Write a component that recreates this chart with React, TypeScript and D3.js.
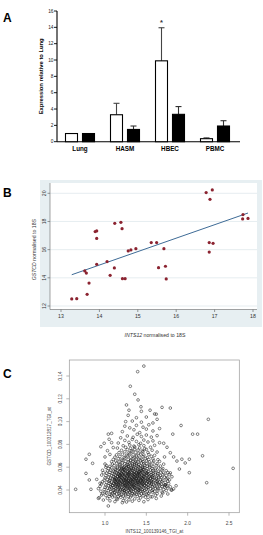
import React from 'react';
import * as d3 from 'd3';

// ---------- Panel A data ----------
const categories = ['Lung', 'HASM', 'HBEC', 'PBMC'];
const whiteValues = [1.0, 3.3, 9.9, 0.37];
const whiteErrTop: (number | null)[] = [null, 4.7, 13.95, 0.47];
const blackValues = [1.0, 1.5, 3.35, 1.92];
const blackErrTop: (number | null)[] = [null, 1.92, 4.3, 2.57];
const aTicks = [0, 2, 4, 6, 8, 10, 12, 14, 16];
const starIndex = 2;

// ---------- Panel B data ----------
const bX = [13.28, 13.41, 13.62, 13.66, 13.68, 13.73, 13.89, 13.93, 13.93, 13.93, 14.2, 14.28, 14.39, 14.4, 14.56, 14.59, 14.6, 14.67, 14.75, 14.82, 14.95, 15.35, 15.49, 15.54, 15.68, 15.72, 15.74, 16.78, 16.94, 16.88, 16.86, 16.96, 16.86, 17.74, 17.73, 17.87];
const bY = [12.5, 12.52, 14.49, 14.34, 12.83, 13.63, 17.28, 17.33, 16.8, 14.96, 15.15, 14.18, 14.7, 17.87, 17.94, 17.49, 13.94, 13.94, 15.91, 15.98, 16.07, 16.5, 16.5, 14.72, 16.07, 14.82, 13.92, 20.05, 20.24, 19.57, 16.5, 16.45, 15.83, 18.49, 18.18, 18.22];
const bFitX = [13.28, 17.87];
const bFitY = [14.22, 18.6];
const bXTicks = [13, 14, 15, 16, 17, 18];
const bYTicks = [12, 14, 16, 18, 20];

// ---------- Panel C data ----------
const cPoints: [number, number][] = [
  // outliers / sparse region
  [1.47,.1487],[1.395,.1438],[1.306,.131],[1.36,.124],[1.40,.119],[1.26,.1146],[1.29,.110],[1.435,.113],[1.44,.109],[1.38,.1034],[1.545,.110],[1.25,.100],[1.24,.096],
  [1.69,.1125],[1.79,.1119],[1.60,.1067],[1.62,.1065],[1.63,.102],[2.25,.102],[1.92,.0966],[1.58,.0988],[1.82,.089],[2.06,.089],[2.12,.089],
  [2.18,.070],[1.93,.067],[2.02,.067],[1.97,.0637],[1.87,.0654],[2.02,.0552],[1.90,.0584],[2.23,.0464],[2.55,.059],[1.81,.040],[1.75,.0775],[1.79,.0727],[1.71,.081],[1.83,.069],[1.79,.055],[1.73,.0444],
  [1.04,.089],[1.08,.0897],[0.99,.081],[0.95,.078],[0.81,.0713],[0.77,.067],[0.85,.0634],[1.00,.0628],[0.77,.0546],[0.81,.0488],[0.645,.0406],[0.83,.0406],[0.94,.0459],[0.92,.0327],[1.04,.026],[0.96,.0356],
  [1.05,.0845],[1.08,.0815],[1.10,.0772],[1.03,.0745],[1.06,.0712],[1.00,.0690],[1.44,.0995],[1.33,.1005],[1.50,.104],[1.28,.1055],
  // dense cloud
  [1.12,.0298],[1.21,.0289],[1.26,.0295],[1.47,.0297],
  [0.98,.0312],[1.06,.0305],[1.15,.0318],[1.22,.0307],[1.29,.0314],[1.33,.0302],[1.41,.0309],[1.52,.0316],
  [0.93,.0333],[1.03,.0327],[1.09,.0338],[1.14,.0324],[1.19,.0336],[1.24,.0329],[1.31,.0339],[1.36,.0322],[1.43,.0331],[1.49,.0337],[1.57,.0340],[1.62,.0326],
  [1.01,.0352],[1.05,.0344],[1.08,.0357],[1.12,.0348],[1.16,.0342],[1.18,.0355],[1.22,.0347],[1.25,.0359],[1.28,.0343],[1.32,.0351],[1.35,.0358],[1.39,.0345],[1.42,.0353],[1.46,.0349],[1.51,.0356],[1.55,.0341],[1.61,.0354],[1.68,.0347],
  [0.97,.0368],[1.02,.0375],[1.06,.0362],[1.09,.0371],[1.11,.0378],[1.14,.0365],[1.17,.0373],[1.20,.0361],[1.23,.0377],[1.25,.0369],[1.28,.0364],[1.30,.0376],[1.33,.0367],[1.36,.0372],[1.38,.0363],[1.41,.0379],[1.44,.0366],[1.47,.0374],[1.50,.0362],[1.53,.0371],[1.58,.0377],[1.63,.0368],[1.70,.0373],[1.76,.0365],
  [0.95,.0389],[1.00,.0382],[1.04,.0395],[1.07,.0386],[1.10,.0398],[1.12,.0381],[1.15,.0392],[1.17,.0387],[1.19,.0399],[1.21,.0384],[1.24,.0393],[1.26,.0388],[1.28,.0396],[1.30,.0383],[1.32,.0391],[1.34,.0386],[1.37,.0397],[1.39,.0382],[1.41,.0394],[1.43,.0389],[1.46,.0385],[1.48,.0398],[1.51,.0390],[1.54,.0383],[1.57,.0396],[1.60,.0387],[1.64,.0393],[1.69,.0381],[1.74,.0395],[1.80,.0400],
  [0.92,.0412],[0.99,.0404],[1.03,.0417],[1.06,.0408],[1.08,.0419],[1.11,.0402],[1.13,.0414],[1.15,.0406],[1.17,.0418],[1.19,.0409],[1.21,.0401],[1.23,.0415],[1.25,.0407],[1.27,.0420],[1.29,.0411],[1.31,.0403],[1.33,.0416],[1.35,.0408],[1.37,.0413],[1.39,.0405],[1.41,.0418],[1.43,.0410],[1.45,.0402],[1.47,.0415],[1.50,.0407],[1.52,.0419],[1.55,.0411],[1.58,.0404],[1.61,.0416],[1.64,.0409],[1.67,.0413],[1.71,.0405],[1.76,.0417],[1.83,.0410],
  [0.94,.0431],[1.00,.0424],[1.04,.0437],[1.07,.0428],[1.09,.0439],[1.11,.0422],[1.13,.0434],[1.15,.0426],[1.16,.0438],[1.18,.0429],[1.20,.0421],[1.22,.0435],[1.24,.0427],[1.25,.0440],[1.27,.0432],[1.29,.0423],[1.31,.0436],[1.32,.0428],[1.34,.0433],[1.36,.0425],[1.38,.0438],[1.40,.0430],[1.42,.0422],[1.44,.0435],[1.46,.0427],[1.48,.0439],[1.50,.0431],[1.52,.0424],[1.55,.0436],[1.57,.0429],[1.60,.0433],[1.63,.0425],[1.66,.0438],[1.69,.0430],[1.72,.0426],[1.75,.0434],[1.79,.0428],[1.86,.0437],
  [0.96,.0453],[1.01,.0445],[1.05,.0458],[1.07,.0448],[1.09,.0441],[1.11,.0455],[1.13,.0447],[1.14,.0459],[1.16,.0450],[1.18,.0443],[1.19,.0456],[1.21,.0448],[1.23,.0460],[1.24,.0442],[1.26,.0454],[1.27,.0446],[1.29,.0457],[1.30,.0449],[1.32,.0444],[1.33,.0455],[1.35,.0451],[1.36,.0442],[1.38,.0458],[1.39,.0447],[1.41,.0453],[1.43,.0445],[1.44,.0457],[1.46,.0449],[1.48,.0441],[1.50,.0454],[1.52,.0446],[1.54,.0459],[1.56,.0450],[1.59,.0443],[1.62,.0456],[1.65,.0448],[1.68,.0452],[1.72,.0444],[1.77,.0457],[1.73,.0444],
  [0.97,.0472],[1.02,.0465],[1.05,.0478],[1.08,.0469],[1.10,.0461],[1.12,.0475],[1.13,.0467],[1.15,.0479],[1.17,.0470],[1.18,.0462],[1.20,.0476],[1.21,.0468],[1.23,.0480],[1.24,.0463],[1.26,.0474],[1.27,.0466],[1.28,.0478],[1.30,.0471],[1.31,.0463],[1.33,.0476],[1.34,.0468],[1.36,.0473],[1.37,.0464],[1.39,.0479],[1.40,.0470],[1.42,.0462],[1.43,.0475],[1.45,.0467],[1.47,.0477],[1.48,.0469],[1.50,.0461],[1.52,.0474],[1.54,.0466],[1.56,.0478],[1.58,.0471],[1.61,.0463],[1.63,.0476],[1.66,.0468],[1.69,.0473],[1.73,.0465],[1.76,.0477],[1.64,.0462],
  [0.99,.0486],[1.03,.0493],[1.06,.0484],[1.09,.0497],[1.11,.0489],[1.12,.0482],[1.14,.0495],[1.16,.0487],[1.17,.0499],[1.19,.0490],[1.20,.0483],[1.22,.0496],[1.23,.0488],[1.25,.0481],[1.26,.0494],[1.28,.0486],[1.29,.0498],[1.31,.0491],[1.32,.0484],[1.34,.0497],[1.35,.0489],[1.37,.0482],[1.38,.0495],[1.40,.0487],[1.41,.0499],[1.43,.0492],[1.44,.0485],[1.46,.0496],[1.47,.0488],[1.49,.0481],[1.51,.0494],[1.53,.0486],[1.55,.0498],[1.57,.0490],[1.59,.0483],[1.62,.0495],[1.64,.0488],[1.67,.0492],[1.70,.0484],[1.74,.0497],[1.78,.0489],[0.90,.0493],
  [1.00,.0506],[1.04,.0513],[1.07,.0504],[1.10,.0517],[1.12,.0509],[1.13,.0502],[1.15,.0515],[1.17,.0507],[1.18,.0519],[1.20,.0510],[1.21,.0503],[1.23,.0516],[1.24,.0508],[1.26,.0501],[1.27,.0514],[1.29,.0506],[1.30,.0518],[1.32,.0511],[1.33,.0504],[1.35,.0517],[1.36,.0509],[1.38,.0502],[1.39,.0515],[1.41,.0507],[1.42,.0519],[1.44,.0512],[1.45,.0505],[1.47,.0516],[1.49,.0508],[1.51,.0501],[1.53,.0514],[1.55,.0506],[1.57,.0518],[1.60,.0510],[1.62,.0503],[1.65,.0515],[1.68,.0508],[1.72,.0512],[1.76,.0504],[1.81,.0516],
  [1.01,.0527],[1.05,.0534],[1.08,.0525],[1.11,.0538],[1.13,.0530],[1.15,.0522],[1.16,.0536],[1.18,.0528],[1.20,.0539],[1.21,.0531],[1.23,.0523],[1.25,.0535],[1.26,.0527],[1.28,.0540],[1.29,.0532],[1.31,.0524],[1.33,.0537],[1.34,.0529],[1.36,.0533],[1.37,.0521],[1.39,.0536],[1.41,.0528],[1.42,.0539],[1.44,.0531],[1.46,.0524],[1.48,.0537],[1.50,.0529],[1.52,.0533],[1.54,.0522],[1.56,.0535],[1.58,.0527],[1.61,.0538],[1.64,.0530],[1.67,.0525],[1.70,.0534],[1.74,.0528],[1.78,.0536],[0.96,.0531],
  [1.02,.0548],[1.06,.0555],[1.09,.0546],[1.12,.0558],[1.14,.0550],[1.16,.0543],[1.18,.0556],[1.20,.0547],[1.22,.0559],[1.23,.0551],[1.25,.0544],[1.27,.0557],[1.29,.0549],[1.30,.0542],[1.32,.0554],[1.34,.0546],[1.36,.0558],[1.38,.0550],[1.40,.0543],[1.41,.0556],[1.43,.0548],[1.45,.0553],[1.47,.0545],[1.49,.0557],[1.51,.0549],[1.53,.0542],[1.56,.0555],[1.58,.0547],[1.61,.0552],[1.64,.0544],[1.67,.0556],[1.71,.0549],[1.76,.0553],[0.98,.0552],
  [1.03,.0568],[1.07,.0574],[1.10,.0565],[1.13,.0578],[1.15,.0570],[1.17,.0562],[1.19,.0576],[1.21,.0567],[1.23,.0579],[1.25,.0571],[1.27,.0563],[1.29,.0575],[1.31,.0568],[1.33,.0572],[1.35,.0564],[1.37,.0577],[1.39,.0569],[1.41,.0561],[1.43,.0574],[1.45,.0566],[1.47,.0578],[1.50,.0570],[1.52,.0563],[1.55,.0575],[1.58,.0567],[1.61,.0572],[1.65,.0564],[1.69,.0576],[1.74,.0569],[0.97,.0573],
  [1.04,.0588],[1.08,.0595],[1.12,.0584],[1.15,.0597],[1.18,.0589],[1.20,.0582],[1.22,.0594],[1.24,.0586],[1.26,.0599],[1.28,.0591],[1.30,.0583],[1.32,.0596],[1.34,.0588],[1.37,.0592],[1.39,.0584],[1.41,.0597],[1.43,.0589],[1.46,.0582],[1.48,.0594],[1.51,.0587],[1.54,.0598],[1.57,.0590],[1.61,.0585],[1.65,.0593],[1.70,.0588],[1.01,.0599],
  [1.06,.0607],[1.11,.0614],[1.15,.0605],[1.18,.0618],[1.21,.0609],[1.23,.0602],[1.26,.0615],[1.28,.0607],[1.31,.0619],[1.33,.0611],[1.35,.0603],[1.38,.0616],[1.40,.0608],[1.43,.0612],[1.45,.0604],[1.48,.0617],[1.51,.0609],[1.54,.0613],[1.58,.0605],[1.62,.0616],[1.67,.0610],[1.02,.0613],
  [1.09,.0628],[1.14,.0635],[1.18,.0626],[1.21,.0638],[1.24,.0630],[1.27,.0623],[1.30,.0636],[1.33,.0628],[1.36,.0639],[1.38,.0631],[1.41,.0624],[1.44,.0637],[1.47,.0629],[1.50,.0633],[1.54,.0625],[1.58,.0636],[1.63,.0630],[1.71,.0627],
  [1.08,.0648],[1.13,.0655],[1.17,.0646],[1.21,.0658],[1.25,.0650],[1.28,.0643],[1.31,.0656],[1.34,.0648],[1.37,.0653],[1.40,.0645],[1.43,.0657],[1.46,.0649],[1.50,.0654],[1.54,.0646],[1.59,.0655],[1.66,.0651],
  [1.10,.0668],[1.16,.0674],[1.20,.0665],[1.24,.0677],[1.28,.0669],[1.31,.0662],[1.34,.0675],[1.38,.0667],[1.41,.0672],[1.45,.0664],[1.49,.0676],[1.53,.0668],[1.58,.0673],[1.64,.0666],
  [1.12,.0688],[1.18,.0694],[1.23,.0685],[1.27,.0697],[1.31,.0689],[1.35,.0682],[1.38,.0695],[1.42,.0687],[1.46,.0692],[1.51,.0684],[1.56,.0696],[1.72,.0690],
  [1.14,.0708],[1.21,.0714],[1.26,.0705],[1.30,.0717],[1.34,.0709],[1.38,.0702],[1.43,.0715],[1.47,.0707],[1.53,.0712],[1.60,.0704],
  [1.17,.0728],[1.24,.0735],[1.29,.0726],[1.33,.0738],[1.37,.0730],[1.41,.0723],[1.46,.0736],[1.52,.0729],[1.63,.0733],
  [1.20,.0748],[1.27,.0755],[1.32,.0746],[1.36,.0758],[1.40,.0750],[1.45,.0743],[1.50,.0756],[1.57,.0749],
  [1.15,.0768],[1.25,.0774],[1.31,.0765],[1.36,.0777],[1.42,.0769],[1.48,.0762],[1.55,.0775],
  [1.22,.0788],[1.30,.0794],[1.35,.0785],[1.41,.0797],[1.47,.0789],[1.60,.0792],
  [1.16,.0812],[1.24,.0835],[1.29,.0818],[1.33,.0844],[1.38,.0826],[1.43,.0809],[1.47,.0838],[1.52,.0821],[1.58,.0831],[1.66,.0815],
  [1.19,.0858],[1.27,.0874],[1.34,.0862],[1.39,.0889],[1.44,.0869],[1.50,.0882],[1.56,.0864],[1.63,.0877],
  [1.21,.0912],[1.30,.0945],[1.35,.0928],[1.38,.0967],[1.42,.0903],[1.46,.0951],[1.50,.0934],[1.53,.0972],[1.58,.0918],[1.66,.0939],
  // extra core density
  [1.22,.0452],[1.28,.0461],[1.34,.0443],[1.40,.0465],[1.25,.0489],[1.31,.0478],[1.37,.0502],[1.43,.0481],[1.19,.0512],[1.27,.0525],[1.33,.0493],[1.39,.0528],[1.45,.0499],[1.21,.0541],[1.29,.0553],[1.35,.0537],[1.42,.0561],[1.48,.0520],[1.24,.0576],[1.32,.0584],[1.38,.0547],[1.44,.0571],[1.26,.0432],[1.36,.0419],[1.16,.0472],[1.46,.0458],[1.52,.0489],[1.18,.0533],[1.50,.0548],[1.30,.0412],[1.23,.0398],[1.41,.0401],[1.14,.0447],[1.56,.0462],[1.12,.0495],[1.58,.0512],[1.28,.0606],[1.36,.0621],[1.20,.0592],[1.46,.0596],
];
const cXTicks = [1.0, 1.5, 2.0, 2.5];
const cYTicks = [0.04, 0.06, 0.08, 0.10, 0.12, 0.14];

const FONT = 'Liberation Sans, Arial, Helvetica, sans-serif';

function PanelA() {
  const x = d3.scaleBand<string>().domain(categories).range([57.5, 237.5]);
  const y = d3.scaleLinear().domain([0, 16]).range([141.7, 11]);
  const bw = 12;
  const gap = 2.5;
  return (
    <g fontFamily={FONT}>
      <text x={3} y={22} fontSize={12} fontWeight="bold">A</text>
      <line x1={57} x2={57} y1={y(16)} y2={y(0)} stroke="#000" strokeWidth={1.1} />
      <line x1={57} x2={240} y1={y(0)} y2={y(0)} stroke="#000" strokeWidth={1.1} />
      {aTicks.map(t => (
        <g key={t}>
          <line x1={54} x2={57} y1={y(t)} y2={y(t)} stroke="#000" strokeWidth={0.9} />
          <text x={53.5} y={y(t) + 1.7} fontSize={4.8} textAnchor="end" fill="#222">{t}</text>
        </g>
      ))}
      <text transform={`translate(42.5,${y(8)}) rotate(-90)`} textAnchor="middle" fontSize={5.8} fontWeight="bold">Expression relative to Lung</text>
      {categories.map((c, i) => {
        const cx = (x(c) as number) + x.bandwidth() / 2;
        const wx = cx - gap - bw;
        const bx = cx + gap;
        const we = whiteErrTop[i];
        const be = blackErrTop[i];
        return (
          <g key={c}>
            {we != null && (
              <g stroke="#444" strokeWidth={1.1}>
                <line x1={wx + bw / 2} x2={wx + bw / 2} y1={y(whiteValues[i])} y2={y(we)} />
                <line x1={wx + bw / 2 - 3} x2={wx + bw / 2 + 3} y1={y(we)} y2={y(we)} />
              </g>
            )}
            {be != null && (
              <g stroke="#333" strokeWidth={1.1}>
                <line x1={bx + bw / 2} x2={bx + bw / 2} y1={y(blackValues[i])} y2={y(be)} />
                <line x1={bx + bw / 2 - 3} x2={bx + bw / 2 + 3} y1={y(be)} y2={y(be)} />
              </g>
            )}
            <rect x={wx} y={y(whiteValues[i])} width={bw} height={y(0) - y(whiteValues[i])} fill="#fff" stroke="#000" strokeWidth={1.1} />
            <rect x={bx} y={y(blackValues[i])} width={bw} height={y(0) - y(blackValues[i])} fill="#000" stroke="#000" strokeWidth={1.1} />
            <text x={cx} y={151} fontSize={6.3} fontWeight="bold" textAnchor="middle">{c}</text>
            {i === starIndex && (
              <text x={wx + bw / 2} y={y(we as number) - 2.5} fontSize={7.5} fontWeight="bold" textAnchor="middle" fill="#333">*</text>
            )}
          </g>
        );
      })}
    </g>
  );
}

function PanelB() {
  const x = d3.scaleLinear().domain([13, 18]).range([61, 253]);
  const y = d3.scaleLinear().domain([12, 20]).range([306, 193.3]);
  const left = 50, right = 257, top = 183, bottom = 309.5;
  const line = d3.line<number>().x((_, i) => x(bFitX[i])).y(d => y(d));
  return (
    <g fontFamily={FONT}>
      <text x={3} y={197} fontSize={12} fontWeight="bold">B</text>
      <rect x={40} y={180} width={222} height={147} fill="#e7eff2" />
      <rect x={left} y={top} width={right - left} height={bottom - top} fill="#fff" />
      {bYTicks.map(t => (
        <g key={t}>
          <line x1={left} x2={right} y1={y(t)} y2={y(t)} stroke="#e3ebee" strokeWidth={0.9} />
          <line x1={left - 2.5} x2={left} y1={y(t)} y2={y(t)} stroke="#555" strokeWidth={0.6} />
          <text transform={`translate(${left - 4},${y(t)}) rotate(-90)`} textAnchor="middle" fontSize={5.2} fill="#333">{t}</text>
        </g>
      ))}
      {bXTicks.map(t => (
        <g key={t}>
          <line x1={x(t)} x2={x(t)} y1={bottom} y2={bottom + 2.5} stroke="#555" strokeWidth={0.6} />
          <text x={x(t)} y={bottom + 8.5} textAnchor="middle" fontSize={5.2} fill="#333">{t}</text>
        </g>
      ))}
      <line x1={left} x2={left} y1={top} y2={bottom} stroke="#666" strokeWidth={0.6} />
      <line x1={left} x2={right} y1={bottom} y2={bottom} stroke="#666" strokeWidth={0.6} />
      <path d={line(bFitY) || ''} fill="none" stroke="#3e6b96" strokeWidth={1} />
      {bX.map((v, i) => (
        <circle key={i} cx={x(v)} cy={y(bY[i])} r={1.6} fill="#8b2330" />
      ))}
      <text transform={`translate(36,${y(16)}) rotate(-90)`} textAnchor="middle" fontSize={5.2} fill="#333">
        <tspan fontStyle="italic">GSTCD</tspan> normalised to 18S
      </text>
      <text x={155} y={336.5} textAnchor="middle" fontSize={5.2} fill="#333">
        <tspan fontStyle="italic">INTS12</tspan> normalised to 18S
      </text>
    </g>
  );
}

function PanelC() {
  const x = d3.scaleLinear().domain([1.0, 2.5]).range([105, 229]);
  const y = d3.scaleLinear().domain([0.04, 0.14]).range([490, 376]);
  const left = 69.3, right = 239.3, top = 360, bottom = 512.7;
  return (
    <g fontFamily={FONT}>
      <text x={3} y={378} fontSize={12} fontWeight="bold">C</text>
      <rect x={left} y={top} width={right - left} height={bottom - top} fill="#fff" stroke="#999" strokeWidth={0.7} />
      {cPoints.map((p, i) => (
        <circle key={i} cx={x(p[0])} cy={y(p[1])} r={1.35} fill="none" stroke="#1e1e1e" strokeWidth={0.55} />
      ))}
      {cXTicks.map(t => (
        <g key={t}>
          <line x1={x(t)} x2={x(t)} y1={bottom} y2={bottom + 3} stroke="#888" strokeWidth={0.6} />
          <text x={x(t)} y={524.5} textAnchor="middle" fontSize={4.8} fill="#444">{t.toFixed(1)}</text>
        </g>
      ))}
      {cYTicks.map(t => (
        <g key={t}>
          <line x1={left - 3} x2={left} y1={y(t)} y2={y(t)} stroke="#888" strokeWidth={0.6} />
          <text transform={`translate(62,${y(t)}) rotate(-90)`} textAnchor="middle" fontSize={4.8} fill="#444">{t.toFixed(2)}</text>
        </g>
      ))}
      <text transform={`translate(50.5,${(top + bottom) / 2}) rotate(-90)`} textAnchor="middle" fontSize={4.6} fill="#444">GSTCD_100312817_TGI_at</text>
      <text x={(left + right) / 2} y={533} textAnchor="middle" fontSize={4.6} fill="#444">INTS12_100139146_TGI_at</text>
    </g>
  );
}

export default function App() {
  return (
    <svg width={263} height={535} style={{ position: 'absolute', left: 0, top: 0, background: '#fff' }}>
      <rect width={263} height={535} fill="#fff" />
      <PanelA />
      <PanelB />
      <PanelC />
    </svg>
  );
}
